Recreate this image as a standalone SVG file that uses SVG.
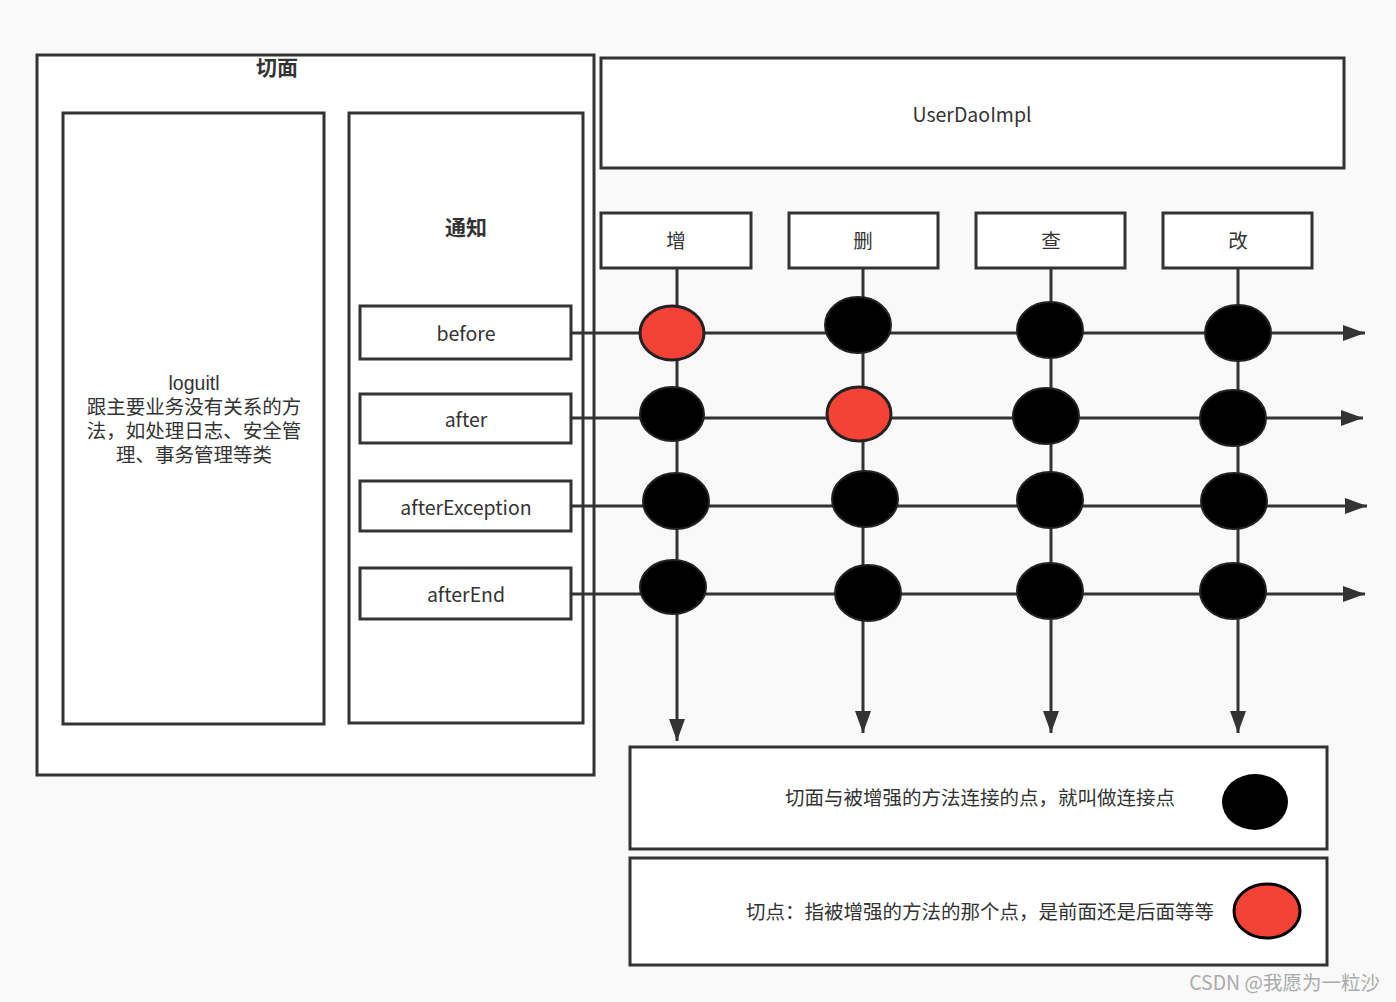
<svg xmlns="http://www.w3.org/2000/svg" width="1396" height="1002" viewBox="0 0 1396 1002">
<defs>
<style>
.box{fill:#fff;stroke:#333;stroke-width:3}
.t{font-family:"Noto Sans CJK SC","Noto Sans",sans-serif;font-size:19.5px;fill:#333;text-anchor:middle}
.lt{font-family:"Liberation Sans","Noto Sans CJK SC",sans-serif;font-size:19.5px;fill:#333;text-anchor:middle}
.b{font-weight:bold;font-size:21px}
.ln{stroke:#333;stroke-width:3;fill:none}
.dot{fill:#000;stroke:#222;stroke-width:2}
.red{fill:#f44336;stroke:#222;stroke-width:3}
</style>
<marker id="arr" viewBox="0 0 22 16" refX="22" refY="8" markerWidth="22" markerHeight="16" markerUnits="userSpaceOnUse" orient="auto">
<path d="M0,0 L22,8 L0,16 Z" fill="#333"/>
</marker>
</defs>
<rect width="1396" height="1002" fill="#f9f9f9"/>

<g id="aspect">
<rect class="box" x="37" y="55" width="557" height="720"/>
<text class="t b" x="277" y="75">切面</text>
</g>
<g id="logutil">
<rect class="box" x="63" y="113" width="261" height="611"/>
<text class="lt" x="194" y="390">loguitl</text>
<text class="lt" x="194" y="414">跟主要业务没有关系的方</text>
<text class="lt" x="194" y="438">法，如处理日志、安全管</text>
<text class="lt" x="194" y="462">理、事务管理等类</text>
</g>
<g id="advice">
<rect class="box" x="349" y="113" width="234" height="610"/>
<text class="t b" x="466" y="235">通知</text>
</g>
<g id="before">
<rect class="box" x="360" y="306" width="211" height="53"/>
<text class="t" x="466" y="341">before</text>
</g>
<g id="after">
<rect class="box" x="360" y="394" width="211" height="49"/>
<text class="t" x="466" y="427">after</text>
</g>
<g id="afterException">
<rect class="box" x="360" y="481" width="211" height="50"/>
<text class="t" x="466" y="515">afterException</text>
</g>
<g id="afterEnd">
<rect class="box" x="360" y="568" width="211" height="51"/>
<text class="t" x="466" y="602">afterEnd</text>
</g>
<g id="userDaoImpl">
<rect class="box" x="601" y="58" width="743" height="110"/>
<text class="t" x="972" y="122">UserDaoImpl</text>
</g>
<g id="add">
<rect class="box" x="601" y="213" width="150" height="55"/>
<text class="t" x="676" y="248">增</text>
</g>
<g id="delete">
<rect class="box" x="789" y="213" width="149" height="55"/>
<text class="t" x="863" y="248">删</text>
</g>
<g id="query">
<rect class="box" x="976" y="213" width="149" height="55"/>
<text class="t" x="1051" y="248">查</text>
</g>
<g id="update">
<rect class="box" x="1163" y="213" width="149" height="55"/>
<text class="t" x="1238" y="248">改</text>
</g>

<g id="connectors">
<line class="ln" x1="571" y1="333" x2="1365" y2="333" marker-end="url(#arr)"/>
<line class="ln" x1="571" y1="418" x2="1363" y2="418" marker-end="url(#arr)"/>
<line class="ln" x1="571" y1="506" x2="1367" y2="506" marker-end="url(#arr)"/>
<line class="ln" x1="571" y1="594" x2="1365" y2="594" marker-end="url(#arr)"/>
<line class="ln" x1="677" y1="268" x2="677" y2="741" marker-end="url(#arr)"/>
<line class="ln" x1="863" y1="268" x2="863" y2="733" marker-end="url(#arr)"/>
<line class="ln" x1="1051" y1="268" x2="1051" y2="733" marker-end="url(#arr)"/>
<line class="ln" x1="1238" y1="268" x2="1238" y2="733" marker-end="url(#arr)"/>
</g>

<g id="points">
<ellipse class="red" cx="672" cy="333" rx="32" ry="27"/>
<ellipse class="dot" cx="858" cy="325" rx="33" ry="28"/>
<ellipse class="dot" cx="1050" cy="330" rx="33" ry="28"/>
<ellipse class="dot" cx="1238" cy="333" rx="33" ry="28"/>
<ellipse class="dot" cx="672" cy="414" rx="32" ry="27"/>
<ellipse class="red" cx="859" cy="414" rx="32" ry="27"/>
<ellipse class="dot" cx="1046" cy="416" rx="33" ry="28"/>
<ellipse class="dot" cx="1233" cy="418" rx="33" ry="28"/>
<ellipse class="dot" cx="676" cy="501" rx="33" ry="28"/>
<ellipse class="dot" cx="865" cy="499" rx="33" ry="28"/>
<ellipse class="dot" cx="1050" cy="500" rx="33" ry="28"/>
<ellipse class="dot" cx="1234" cy="501" rx="33" ry="28"/>
<ellipse class="dot" cx="673" cy="587" rx="33" ry="27"/>
<ellipse class="dot" cx="868" cy="593" rx="33" ry="28"/>
<ellipse class="dot" cx="1050" cy="591" rx="33" ry="28"/>
<ellipse class="dot" cx="1233" cy="591" rx="33" ry="28"/>
</g>

<g id="legend-joinpoint">
<rect class="box" x="630" y="747" width="697" height="102"/>
<text class="t" x="980" y="805">切面与被增强的方法连接的点，就叫做连接点</text>
<ellipse cx="1255" cy="802" rx="33" ry="28" fill="#000"/>
</g>
<g id="legend-pointcut">
<rect class="box" x="630" y="858" width="697" height="107"/>
<text class="t" x="980" y="919">切点：指被增强的方法的那个点，是前面还是后面等等</text>
<ellipse cx="1267" cy="911" rx="33" ry="27" fill="#f44336" stroke="#000" stroke-width="3"/>
</g>
<text x="1380" y="990" font-family="Noto Sans CJK SC,sans-serif" font-size="19.5" fill="#aaa" text-anchor="end">CSDN @我愿为一粒沙</text>
</svg>
